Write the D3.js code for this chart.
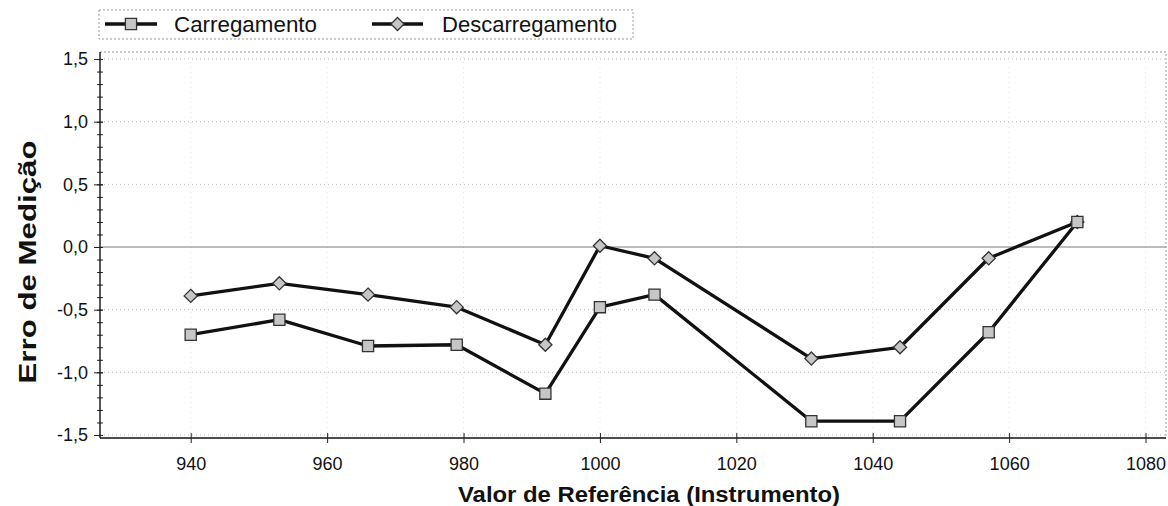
<!DOCTYPE html>
<html>
<head>
<meta charset="utf-8">
<script src="https://cdn.jsdelivr.net/npm/d3@7"></script>
<style>
  body { margin: 0; background: #fff; }
  text { font-family: "Liberation Sans", Arial, sans-serif; fill: #111; }
</style>
</head>
<body>
<div id="chart"></div>
<script>
// data
const refValues = [940, 953, 966, 979, 992, 1000, 1008, 1031, 1044, 1057, 1070];
const carregamento = [-0.70, -0.58, -0.79, -0.78, -1.17, -0.48, -0.38, -1.39, -1.39, -0.68, 0.20];
const descarregamento = [-0.39, -0.29, -0.38, -0.48, -0.78, 0.01, -0.09, -0.89, -0.80, -0.09, 0.20];
const xTicks = [940, 960, 980, 1000, 1020, 1040, 1060, 1080];
const yTicks = [-1.5, -1.0, -0.5, 0.0, 0.5, 1.0, 1.5];
const seriesNames = ["Carregamento", "Descarregamento"];

const width = 1168;
const height = 506;
const plot = { left: 100, right: 1166, top: 52, bottom: 438 };

const svg = d3.select("#chart")
              .append("svg")
              .attr("width", width)
              .attr("height", height);

// scales
const x = d3.scaleLinear()
            .domain([926.7, 1083])
            .range([plot.left, plot.right]);

const y = d3.scaleLinear()
            .domain([-1.524, 1.556])
            .range([plot.bottom, plot.top]);

const fmt = d => d3.format(".1f")(d).replace(".", ",").replace("\u2212", "-");

// dotted grid lines
svg.append("g")
   .selectAll("line")
   .data(yTicks.filter(d => d !== 0))
   .enter()
   .append("line")
   .attr("x1", plot.left)
   .attr("x2", plot.right)
   .attr("y1", d => y(d))
   .attr("y2", d => y(d))
   .attr("stroke", "#bdbdbd")
   .attr("stroke-width", 1)
   .attr("stroke-dasharray", "1,3");

svg.append("g")
   .selectAll("line")
   .data(xTicks)
   .enter()
   .append("line")
   .attr("x1", d => x(d))
   .attr("x2", d => x(d))
   .attr("y1", plot.top)
   .attr("y2", plot.bottom)
   .attr("stroke", "#e2e2e2")
   .attr("stroke-width", 1)
   .attr("stroke-dasharray", "1,4");

// top and right border (dotted)
svg.append("path")
   .attr("d", `M${plot.left},${plot.top}H${plot.right}V${plot.bottom}`)
   .attr("fill", "none")
   .attr("stroke", "#9a9a9a")
   .attr("stroke-dasharray", "2,2");

// zero line
svg.append("line")
   .attr("x1", plot.left)
   .attr("x2", plot.right)
   .attr("y1", y(0))
   .attr("y2", y(0))
   .attr("stroke", "#7a7a7a")
   .attr("stroke-width", 1.2);

// y axis with minor ticks
const minorY = d3.range(-15, 16).map(d => d / 10);
svg.append("g")
   .attr("transform", `translate(${plot.left},0)`)
   .call(d3.axisLeft(y).tickValues(minorY).tickSize(3).tickFormat(""))
   .call(g => g.select(".domain").remove())
   .call(g => g.selectAll("line").attr("x1", 3).attr("stroke", "#222"));

const yAxis = svg.append("g")
                 .attr("transform", `translate(${plot.left},0)`)
                 .call(d3.axisLeft(y).tickValues(yTicks).tickSize(6).tickPadding(6).tickFormat(fmt));
yAxis.select(".domain").attr("d", `M0,${plot.top}V${plot.bottom}`).attr("stroke", "#111").attr("stroke-width", 1.4);
yAxis.selectAll("line").attr("x1", 3).attr("stroke", "#222");
yAxis.selectAll("text")
     .style("font-size", "18px")
     .style("font-family", "'Liberation Sans', Arial, sans-serif")
     .attr("fill", "#111");

// x axis
const xAxis = svg.append("g")
                 .attr("transform", `translate(0,${plot.bottom})`)
                 .call(d3.axisBottom(x).tickValues(xTicks).tickSize(5).tickPadding(14).tickFormat(d3.format("d")));
xAxis.select(".domain").attr("d", `M${plot.left},0H${plot.right}`).attr("stroke", "#111").attr("stroke-width", 1.4);
xAxis.selectAll("line").attr("y1", -5).attr("stroke", "#222");
xAxis.selectAll("text")
     .style("font-size", "18px")
     .style("font-family", "'Liberation Sans', Arial, sans-serif")
     .attr("fill", "#111");

// axis titles
svg.append("text")
   .attr("x", 649)
   .attr("y", 502)
   .attr("text-anchor", "middle")
   .attr("textLength", 382)
   .attr("lengthAdjust", "spacingAndGlyphs")
   .style("font-size", "22px")
   .style("font-weight", "bold")
   .text("Valor de Referência (Instrumento)");

svg.append("text")
   .attr("transform", "translate(36,262) rotate(-90)")
   .attr("text-anchor", "middle")
   .attr("textLength", 243)
   .attr("lengthAdjust", "spacingAndGlyphs")
   .style("font-size", "23px")
   .style("font-weight", "bold")
   .text("Erro de Medição");

// lines and markers
const line = d3.line()
               .x((d, i) => x(refValues[i]))
               .y(d => y(d));

const squareMarker = d3.symbol().type(d3.symbolSquare).size(125);
const diamondMarker = d3.symbol().type(d3.symbolDiamond2).size(110);

function drawSeries(values, marker) {
    svg.append("path")
       .datum(values)
       .attr("d", line)
       .attr("fill", "none")
       .attr("stroke", "#111")
       .attr("stroke-width", 3.3)
       .attr("stroke-linejoin", "round");

    svg.append("g")
       .selectAll("path")
       .data(values)
       .enter()
       .append("path")
       .attr("transform", (d, i) => `translate(${x(refValues[i])},${y(d)})`)
       .attr("d", marker)
       .attr("fill", "#c6c6c6")
       .attr("stroke", "#333")
       .attr("stroke-width", 1.3);
}

drawSeries(descarregamento, diamondMarker);
drawSeries(carregamento, squareMarker);

// legend
const legend = svg.append("g");
legend.append("rect")
      .attr("x", 99)
      .attr("y", 10)
      .attr("width", 534)
      .attr("height", 29)
      .attr("fill", "#fff")
      .attr("stroke", "#9a9a9a")
      .attr("stroke-dasharray", "2,2");

const legendItems = [
    { name: seriesNames[0], x0: 105, x1: 157, textX: 174, textLen: 143, marker: squareMarker },
    { name: seriesNames[1], x0: 372, x1: 423, textX: 442, textLen: 175, marker: diamondMarker }
];

legendItems.forEach(function(item) {
    legend.append("line")
          .attr("x1", item.x0)
          .attr("x2", item.x1)
          .attr("y1", 24)
          .attr("y2", 24)
          .attr("stroke", "#111")
          .attr("stroke-width", 3.3);
    legend.append("path")
          .attr("transform", `translate(${(item.x0 + item.x1) / 2},24)`)
          .attr("d", item.marker)
          .attr("fill", "#c6c6c6")
          .attr("stroke", "#333")
          .attr("stroke-width", 1.3);
    legend.append("text")
          .attr("x", item.textX)
          .attr("y", 32)
          .attr("textLength", item.textLen)
          .attr("lengthAdjust", "spacingAndGlyphs")
          .style("font-size", "22px")
          .text(item.name);
});
</script>
</body>
</html>
